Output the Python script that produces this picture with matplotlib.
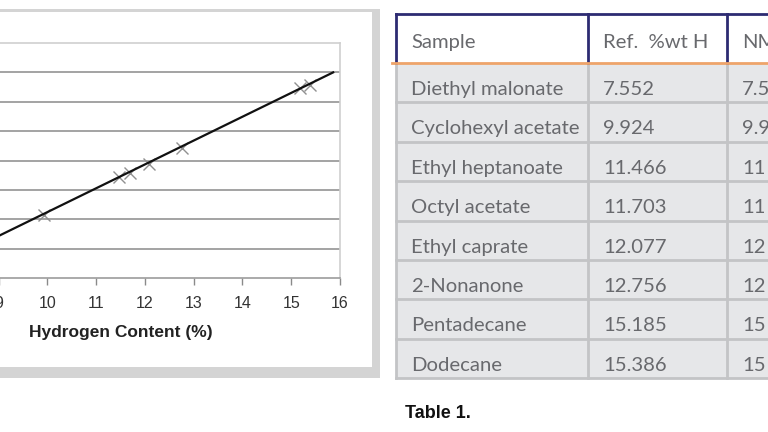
import matplotlib
matplotlib.use("Agg")
import matplotlib.pyplot as plt
from matplotlib.patches import Rectangle
from matplotlib.lines import Line2D

# ---- data ----
samples = ["Diethyl malonate", "Cyclohexyl acetate", "Ethyl heptanoate", "Octyl acetate",
           "Ethyl caprate", "2-Nonanone", "Pentadecane", "Dodecane"]
ref_h = [7.552, 9.924, 11.466, 11.703, 12.077, 12.756, 15.185, 15.386]
nmr_visible = ["7.5", "9.9", "11", "11", "12", "12", "15", "15"]
signal = [0.51, 4.29, 6.87, 7.14, 7.76, 8.84, 12.93, 13.13]
trend_x = [7.3, 15.86]
trend_y = [0.1, 14.0]
headers = ["Sample", "Ref.  %wt H", "NM"]
x_ticks = [7, 8, 9, 10, 11, 12, 13, 14, 15, 16]
y_grid = [2, 4, 6, 8, 10, 12, 14]

W, H = 768, 432
fig = plt.figure(figsize=(W / 100, H / 100), dpi=100)
fig.patch.set_facecolor("white")

ov = fig.add_axes([0, 0, 1, 1], zorder=0)
ov.set_xlim(0, W)
ov.set_ylim(H, 0)
ov.axis("off")

# chart box with shadow
ov.add_patch(Rectangle((-10, 9), 390, 369, fc="#d4d4d4", ec="none"))
ov.add_patch(Rectangle((-10, 12), 382, 355, fc="white", ec="none"))

# ---- chart ----
ax = fig.add_axes([-99 / W, (H - 278) / H, 439 / W, 235 / H], zorder=2)
ax.set_facecolor("none")
ax.set_xlim(7, 16)
ax.set_ylim(0, 16)
for g in y_grid:
    ax.axhline(g, color="#9c9c9c", lw=1.3, zorder=1)
ax.plot(ref_h, signal, linestyle="none", marker="x", markersize=9,
        markeredgewidth=1.0, color="#909090", zorder=3)
ax.plot(trend_x, trend_y, color="#111111", lw=1.6, zorder=4)

for s in ["top", "right"]:
    ax.spines[s].set_color("#cfcfcf")
    ax.spines[s].set_linewidth(1.2)
ax.spines["bottom"].set_color("#9c9c9c")
ax.spines["bottom"].set_linewidth(1.2)
ax.spines["left"].set_color("#9c9c9c")
ax.set_yticks([])
ax.set_xticks(x_ticks)
ax.tick_params(axis="x", direction="out", length=5, width=1, color="#8a8a8a",
               labelsize=11.5, labelcolor="#333333", pad=8)
for lab in ax.get_xticklabels():
    lab.set_fontfamily("Liberation Sans")
ax.set_xlabel("Hydrogen Content (%)", fontsize=12.5, fontweight="bold",
              family="Liberation Sans", color="#222222", labelpad=10)

# ---- table ----
tf = "Lato"
tcol = "#68696d"
left, top, hdr_bot = 396, 14, 63
col_x = [396, 588, 727, 900]
row_h = 39.4
n = len(samples)
bottom = hdr_bot + row_h * n

ov.add_patch(Rectangle((left, hdr_bot), 900 - left, bottom - hdr_bot, fc="#e6e7e9", ec="none"))
ov.add_patch(Rectangle((left, top), 900 - left, hdr_bot - top, fc="white", ec="none"))

grey = "#c3c4c6"
for i in range(1, n + 1):
    y = hdr_bot + row_h * i
    ov.add_line(Line2D([left, 900], [y, y], color=grey, lw=2))
for cx in col_x[:3]:
    ov.add_line(Line2D([cx, cx], [hdr_bot, bottom], color=grey, lw=2))

navy = "#2d2b72"
ov.add_line(Line2D([left, 900], [top, top], color=navy, lw=2))
for cx in col_x[:3]:
    ov.add_line(Line2D([cx, cx], [top, hdr_bot], color=navy, lw=2))
ov.add_line(Line2D([left - 4, 900], [hdr_bot, hdr_bot], color="#eea46a", lw=2))

fs = 14.6
for j, h in enumerate(headers):
    ov.text(col_x[j] + 15, top + 34, h, family=tf, fontsize=fs,
            color=tcol, va="baseline", ha="left")
for i in range(n):
    by = hdr_bot + row_h * i + 32
    ov.text(col_x[0] + 15, by, samples[i], family=tf, fontsize=fs, color=tcol, va="baseline")
    ov.text(col_x[1] + 15, by, f"{ref_h[i]:.3f}", family=tf, fontsize=fs, color=tcol, va="baseline")
    ov.text(col_x[2] + 15, by, nmr_visible[i], family=tf, fontsize=fs, color=tcol, va="baseline")

ov.text(405, 413, "Table 1.", family="Liberation Sans", fontweight="bold",
        fontsize=13, color="#111111", va="center", ha="left")

fig.savefig("out.png", dpi=100)
